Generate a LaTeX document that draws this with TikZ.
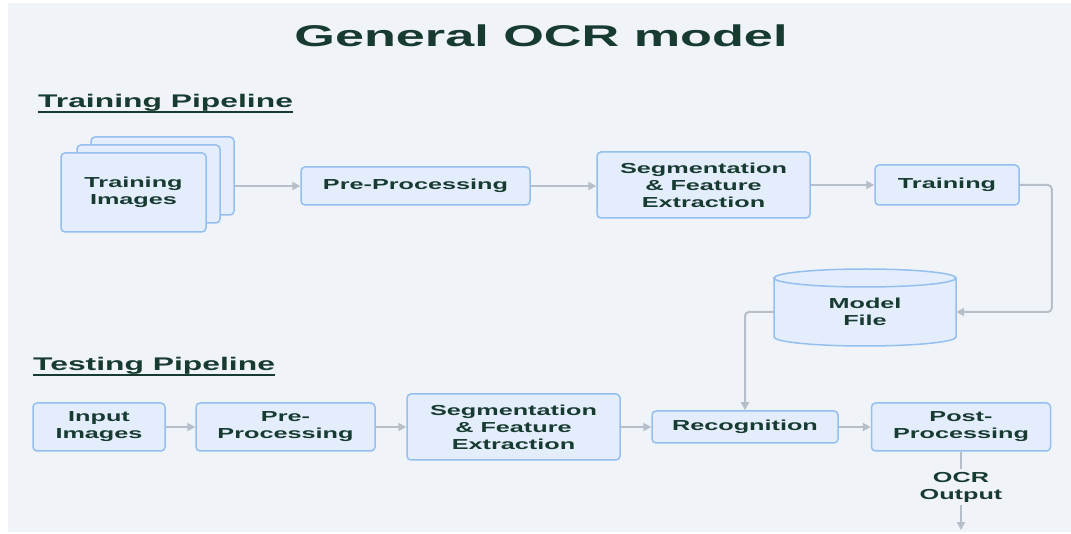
\documentclass[tikz,border=0pt]{standalone}
\usepackage{fontspec}
\setmainfont{Liberation Sans}[FakeStretch=1.74]
\usetikzlibrary{arrows.meta,calc}
\definecolor{bg}{HTML}{F0F4F8}
\definecolor{boxfill}{HTML}{E3EDFB}
\definecolor{boxline}{HTML}{94BFEE}
\definecolor{arr}{HTML}{B6BECA}
\definecolor{ink}{HTML}{173A31}
\newcommand\dgbody{\fontsize{14.5}{17}\selectfont\bfseries}
\newcommand\dghead{\fontsize{18.3}{21}\selectfont\bfseries}
\newcommand\dgtitle{\fontsize{30}{34}\selectfont\bfseries}
\begin{document}
\begin{tikzpicture}[x=1pt,y=1pt,
  box/.style={draw=boxline, fill=boxfill, line width=1.5pt, rounded corners=4pt,
    align=center, font=\dgbody, text=ink, inner sep=0pt},
  txt/.style={align=center, font=\dgbody, text=ink, inner sep=2pt},
  head/.style={font=\dghead, text=ink, inner sep=0pt, anchor=base west},
  ttl/.style={font=\dgtitle, text=ink, inner sep=0pt, anchor=base},
  conn/.style={draw=arr, line width=2pt, rounded corners=4pt},
  arrow/.style={conn, -{Triangle[length=8pt,width=8pt]}},
  uline/.style={draw=ink, line width=1.5pt}]
% canvas
\useasboundingbox (0,0) rectangle (1071,533);
\fill[white] (0,0) rectangle (1071,533);
\fill[bg] (8,1) rectangle (1071,530);
% title and headings
\node[ttl] (title) at (541,486) {General OCR model};
\node[head] (h1) at (38,425) {Training Pipeline};
\draw[uline] ([yshift=-4pt]h1.base west) -- ([yshift=-4pt]h1.base east);
\node[head] (h2) at (33,162) {Testing Pipeline};
\draw[uline] ([yshift=-4pt]h2.base west) -- ([yshift=-4pt]h2.base east);
% training pipeline
\node[box, minimum width=143pt, minimum height=78pt] (ti1) at (162.5,357) {};
\node[box, minimum width=143pt, minimum height=78pt] (ti2) at (148.5,349) {};
\node[box, minimum width=145pt, minimum height=79pt] (ti3) at (133.5,340.5) {Training\\Images};
\node[box, minimum width=229pt, minimum height=38pt] (pp1) at (415.5,347) {Pre-Processing};
\node[box, minimum width=213pt, minimum height=66pt] (sf1) at (703.5,348) {Segmentation\\\& Feature\\Extraction};
\node[box, minimum width=144pt, minimum height=40pt] (tr) at (947,348) {Training};
% model file cylinder
\fill[boxfill] (774,255) -- (774,196) arc[start angle=180, end angle=360, x radius=91pt, y radius=9pt]
  -- (956,255) arc[start angle=0, end angle=180, x radius=91pt, y radius=9pt] -- cycle;
\draw[boxline, line width=1.5pt] (774,255) -- (774,196)
  arc[start angle=180, end angle=360, x radius=91pt, y radius=9pt] -- (956,255);
\draw[boxline, line width=1.5pt, fill=boxfill] (865,255) ellipse [x radius=91pt, y radius=9pt];
\node[txt, minimum width=182pt, minimum height=60pt, inner sep=0pt] (mf) at (865,221) {Model\\File};
% testing pipeline
\node[box, minimum width=132pt, minimum height=48pt] (ii) at (99,106) {Input\\Images};
\node[box, minimum width=179pt, minimum height=48pt] (pp2) at (285.5,106) {Pre-\\Processing};
\node[box, minimum width=213pt, minimum height=66pt] (sf2) at (513.5,106) {Segmentation\\\& Feature\\Extraction};
\node[box, minimum width=186pt, minimum height=32pt] (rec) at (745,106) {Recognition};
\node[box, minimum width=179pt, minimum height=48pt] (post) at (961,106) {Post-\\Processing};
\node[txt, inner ysep=3pt] (ocr) at (961,46) {OCR\\Output};
\coordinate (end) at (961,3);
% connectors
\draw[arrow] (ti1.east |- pp1.west) -- (pp1.west);
\draw[arrow] (pp1.east) -- (pp1.east -| sf1.west);
\draw[arrow] (sf1.east) -- (sf1.east -| tr.west);
\draw[arrow] (tr.east) -- ++(32,0) |- (mf.east);
\draw[arrow] (mf.west) -| (rec.north);
\draw[arrow] (ii.east) -- (pp2.west);
\draw[arrow] (pp2.east) -- (sf2.west);
\draw[arrow] (sf2.east) -- (rec.west);
\draw[arrow] (rec.east) -- (post.west);
\draw[conn] (post.south) -- (ocr.north);
\draw[arrow] (ocr.south) -- (end);
\end{tikzpicture}
\end{document}
